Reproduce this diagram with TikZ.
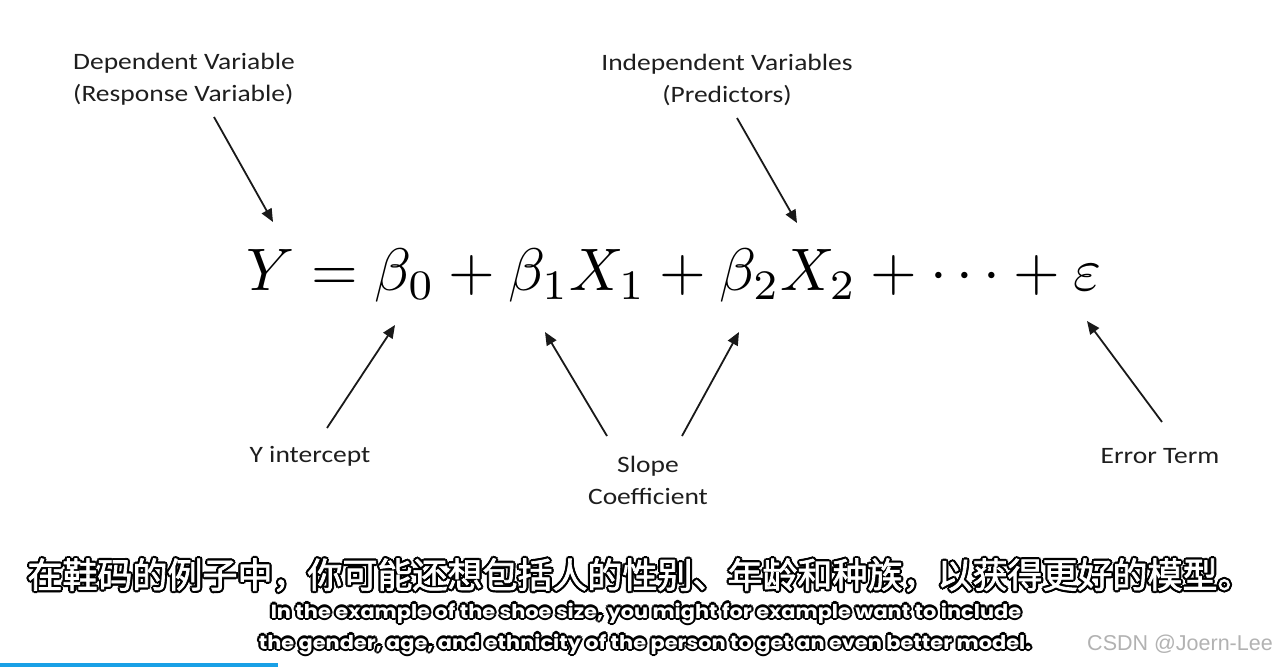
\documentclass[tikz,border=0pt]{standalone}
\usepackage{fontspec}
\setmainfont{Carlito}
\newfontfamily\cjk{Noto Sans CJK SC}[FakeBold=2]
\newfontfamily\subf{Poppins}
\newfontfamily\wmfont{Liberation Sans}
\usetikzlibrary{arrows.meta,calc}
\definecolor{csdnblue}{RGB}{25,160,230}
\definecolor{wmgray}{RGB}{178,178,178}
\definecolor{lbltext}{RGB}{30,30,30}
\newcommand\wide[1]{\scalebox{1.17}[1]{#1}}
\newcommand\subwide[1]{\scalebox{1.1}[1]{#1}}
\newcommand\outlinedtext[4]{%
  \foreach \ang in {0,45,...,315}{\node[font=#3,text=black,inner sep=0pt] at ($(#2)+(\ang:2.2)$) {#4};}
  \node[font=#3,text=white,inner sep=0pt] (#1) at (#2) {#4};
}
\begin{document}
\begin{tikzpicture}[x=1pt,y=-1pt,
  lbl/.style={font=\fontsize{23.5}{32}\selectfont, inner sep=0pt, text=lbltext},
  arr/.style={line width=1.8pt, draw=black!90, -{Triangle[length=13pt,width=11pt]}},
]
\useasboundingbox (0,0) rectangle (1280,667);
\fill[white] (0,0) rectangle (1280,667);

% labels
\node[lbl, align=left, anchor=west] (dep) at (73,79) {\wide{Dependent Variable}\\\wide{(Response Variable)}};
\node[lbl, align=center] (indep) at (727,80) {\wide{Independent Variables}\\\wide{(Predictors)}};
\node[lbl] (yint) at (310,456) {\wide{Y intercept}};
\node[lbl, align=center] (slope) at (648,480) {\wide{Slope}\\\wide{Coefficient}};
\node[lbl] (err) at (1160,456) {\wide{Error Term}};

% formula
\node[inner sep=0pt, anchor=base west] (eq) at (246,290)
  {\scalebox{6}{$Y=\beta_0+\beta_1X_1+\beta_2X_2+\cdots+\varepsilon$}};

% arrow ends
\coordinate (depS) at (214,117);  \coordinate (depT) at (273,222);
\coordinate (indS) at (737,118);  \coordinate (indT) at (797,223);
\coordinate (yiS) at (327,428);   \coordinate (yiT) at (395,325);
\coordinate (slS1) at (607,436);  \coordinate (slT1) at (545,332);
\coordinate (slS2) at (682,436);  \coordinate (slT2) at (739,332);
\coordinate (erS) at (1162,422);  \coordinate (erT) at (1087,321);

\draw[arr] (depS) -- (depT);
\draw[arr] (indS) -- (indT);
\draw[arr] (yiS) -- (yiT);
\draw[arr] (slS1) -- (slT1);
\draw[arr] (slS2) -- (slT2);
\draw[arr] (erS) -- (erT);

% subtitles
\outlinedtext{zh}{640,575}{\cjk\fontsize{35}{35}\selectfont}{在鞋码的例子中，你可能还想包括人的性别、年龄和种族，以获得更好的模型。}
\outlinedtext{en1}{646,613}{\subf\bfseries\fontsize{19}{19}\selectfont}{\subwide{In the example of the shoe size, you might for example want to include}}
\outlinedtext{en2}{645,644}{\subf\bfseries\fontsize{19}{19}\selectfont}{\subwide{the gender, age, and ethnicity of the person to get an even better model.}}

% watermark
\node[inner sep=0pt, font=\wmfont\fontsize{21.5}{21.5}\selectfont, text=wmgray] (wm) at (1180,644) {CSDN @Joern-Lee};

% blue bar
\fill[csdnblue] (0,663) rectangle (278,667);
\end{tikzpicture}
\end{document}
